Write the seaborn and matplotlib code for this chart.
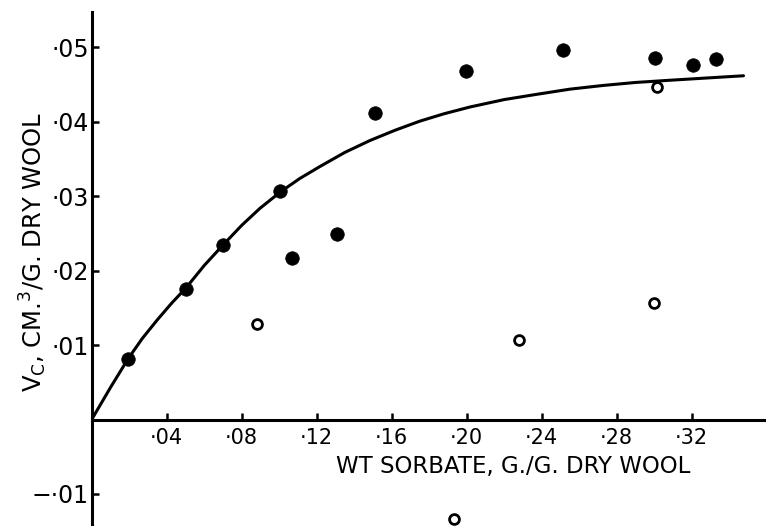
import matplotlib
matplotlib.use("Agg")
import matplotlib.pyplot as plt
import seaborn as sns
import pandas as pd

# ---- data ----
filled_x = [0.0195, 0.0503, 0.0702, 0.1004, 0.1070, 0.1310, 0.1511, 0.1996, 0.2516, 0.3004, 0.3205, 0.3327]
filled_y = [0.0082, 0.0176, 0.0235, 0.0307, 0.0217, 0.0249, 0.0412, 0.0469, 0.0496, 0.0486, 0.0476, 0.0485]
open_x = [0.0883, 0.1932, 0.2279, 0.2999, 0.3013]
open_y = [0.0128, -0.0134, 0.0107, 0.0156, 0.0447]
curve_x = [0.0, 0.010, 0.0195, 0.027, 0.035, 0.0425, 0.0503, 0.060, 0.0702, 0.080,
           0.0898, 0.1007, 0.111, 0.1217, 0.135, 0.1484, 0.162, 0.1750, 0.188,
           0.2017, 0.220, 0.2372, 0.255, 0.2728, 0.290, 0.3085, 0.328, 0.3476]
curve_y = [0.0, 0.0043, 0.0082, 0.0109, 0.0134, 0.0156, 0.0177, 0.0207, 0.0235, 0.0261,
           0.0284, 0.0306, 0.0324, 0.0340, 0.0359, 0.0375, 0.0389, 0.0401, 0.0411,
           0.0420, 0.0430, 0.0437, 0.0444, 0.0449, 0.0453, 0.0456, 0.0459, 0.0462]
xticks = [0.04, 0.08, 0.12, 0.16, 0.20, 0.24, 0.28, 0.32]
xtick_labels = ["·04", "·08", "·12", "·16", "·20", "·24", "·28", "·32"]
yticks = [-0.01, 0.01, 0.02, 0.03, 0.04, 0.05]
ytick_labels = ["−·01", "·01", "·02", "·03", "·04", "·05"]
xlabel = "WT SORBATE, G./G. DRY WOOL"
ylabel = r"V$_\mathregular{C}$, CM.$^\mathregular{3}$/G. DRY WOOL"

sns.set_theme(style="white")
plt.rcParams["font.family"] = ["DejaVu Sans"]

fig = plt.figure(figsize=(7.66, 5.26), dpi=100)
ax = fig.add_axes([91.7 / 766, 0.0, 674.3 / 766, 514 / 526])

curve = pd.DataFrame({"x": curve_x, "y": curve_y})
sns.lineplot(data=curve, x="x", y="y", sort=False, color="black", lw=2.2, ax=ax, zorder=3)

sns.scatterplot(x=filled_x, y=filled_y, ax=ax, color="black", s=95, edgecolor="black",
                linewidth=0.5, zorder=4)
sns.scatterplot(x=open_x, y=open_y, ax=ax, facecolor="white", edgecolor="black",
                s=50, linewidth=2.0, zorder=4)

ax.set_xlim(0, 0.3596)
ax.set_ylim(-0.01431, 0.05477)

for s in ["top", "right"]:
    ax.spines[s].set_visible(False)
ax.spines["bottom"].set_position(("data", 0))
for s in ["left", "bottom"]:
    ax.spines[s].set_color("black")
    ax.spines[s].set_linewidth(2.2)

ax.set_xticks(xticks)
ax.set_xticklabels(xtick_labels)
ax.set_yticks(yticks)
ax.set_yticklabels(ytick_labels)
ax.tick_params(axis="x", direction="in", length=5, width=1.8, pad=6, labelsize=15,
               colors="black", bottom=True)
ax.tick_params(axis="y", direction="in", length=5, width=1.8, pad=2, labelsize=17,
               colors="black", left=True)

ax.set_xlabel(xlabel, fontsize=16.5, color="black")
ax.xaxis.set_label_coords(0.625, 0.138)
ax.set_ylabel(ylabel, fontsize=17.5, color="black")
ax.yaxis.set_label_coords(-0.064, 0.533)

fig.savefig("out.png", dpi=100)
